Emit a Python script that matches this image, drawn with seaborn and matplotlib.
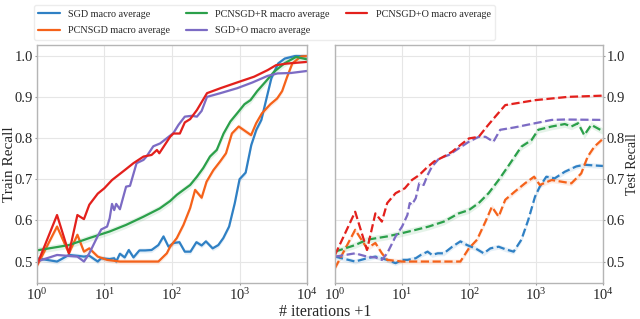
"""
Train / test recall curves (macro average) vs number of iterations.
"""

import pandas as pd
import matplotlib
matplotlib.use("Agg")
import matplotlib.pyplot as plt
import seaborn as sns

# Series names and colours
SERIES = ["SGD macro average", "PCNSGD macro average", "PCNSGD+R macro average",
          "SGD+O macro average", "PCNSGD+O macro average"]
COLORS = ["#2f80c4", "#f5621a", "#2ba04a", "#7c6bc4", "#e3201c"]

# ---- Train recall (left panel) ----
sgd_train_x = [1, 2, 3, 4, 5, 6, 8, 9, 12, 14, 15, 17, 20, 23, 27, 33, 40, 50, 63, 75, 89,
               105, 129, 155, 188, 230, 275, 318, 400, 485, 575, 700, 850, 1000, 1230, 1490,
               1770, 2100, 2500, 2950, 3710, 4660, 6550, 10000]
sgd_train_y = [0.508, 0.500, 0.516, 0.514, 0.512, 0.514, 0.500, 0.508, 0.506, 0.508, 0.500,
               0.519, 0.510, 0.528, 0.510, 0.527, 0.527, 0.528, 0.540, 0.561, 0.536, 0.545,
               0.547, 0.524, 0.524, 0.547, 0.539, 0.549, 0.532, 0.540, 0.557, 0.585, 0.642,
               0.700, 0.716, 0.783, 0.820, 0.844, 0.896, 0.945, 0.981, 0.993, 0.999, 0.999]

pcnsgd_train_x = [1, 2, 3, 4, 5, 6, 8, 11, 17, 30, 63, 84, 94, 118, 148, 186, 220, 275, 325,
                  410, 515, 630, 770, 970, 1210, 1480, 1760, 2140, 2850, 3590, 4260, 5060,
                  6020, 8050, 10000]
pcnsgd_train_y = [0.488, 0.585, 0.520, 0.565, 0.524, 0.532, 0.512, 0.504, 0.500, 0.500,
                  0.500, 0.520, 0.536, 0.557, 0.589, 0.630, 0.674, 0.655, 0.694, 0.722,
                  0.743, 0.763, 0.811, 0.828, 0.817, 0.807, 0.836, 0.860, 0.882, 0.896,
                  0.914, 0.949, 0.981, 0.998, 0.999]

pcnsgdr_train_x = [1, 3, 6, 12, 21, 38, 66, 94, 118, 148, 186, 234, 290, 365, 460, 580, 730,
                   920, 1180, 1450, 1825, 2430, 3240, 4580, 6830, 10000]
pcnsgdr_train_y = [0.527, 0.540, 0.557, 0.573, 0.589, 0.609, 0.629, 0.647, 0.662, 0.674,
                   0.686, 0.706, 0.727, 0.755, 0.771, 0.811, 0.840, 0.860, 0.882, 0.892,
                   0.914, 0.937, 0.961, 0.981, 0.997, 0.991]

sgdo_train_x = [1, 2, 4, 5, 6, 8, 9, 11, 12, 13, 14, 15, 17, 21, 24, 30, 38, 42, 53, 67, 105,
                125, 155, 196, 234, 275, 330, 520, 920, 1550, 2600, 3660, 5750, 10000]
sgdo_train_y = [0.500, 0.516, 0.512, 0.500, 0.520, 0.562, 0.578, 0.585, 0.605, 0.640, 0.625,
                0.640, 0.627, 0.682, 0.684, 0.739, 0.747, 0.755, 0.780, 0.787, 0.812, 0.832,
                0.852, 0.854, 0.852, 0.866, 0.900, 0.909, 0.921, 0.935, 0.951, 0.957, 0.958,
                0.963]

pcnsgdo_train_x = [1, 2, 3, 4, 5, 6, 8, 10, 13, 20, 27, 38, 50, 60, 65, 94, 105, 131, 155,
                   186, 234, 330, 520, 920, 1640, 2600, 3460, 5060, 10000]
pcnsgdo_train_y = [0.490, 0.613, 0.520, 0.613, 0.603, 0.638, 0.665, 0.678, 0.698, 0.722,
                   0.739, 0.755, 0.759, 0.771, 0.763, 0.803, 0.811, 0.811, 0.838, 0.846,
                   0.868, 0.909, 0.921, 0.935, 0.949, 0.965, 0.977, 0.981, 0.985]

# ---- Test recall (right panel) ----
sgd_test_x = [1, 2, 3, 4, 6, 8, 10, 12, 16, 19, 24, 28, 34, 42, 56, 74, 93, 124, 165, 207,
              275, 345, 460, 600, 760, 960, 1130, 1410, 1880, 2660, 3950, 5200, 10000]
sgd_test_y = [0.512, 0.500, 0.508, 0.512, 0.504, 0.496, 0.504, 0.504, 0.508, 0.516, 0.524,
              0.516, 0.520, 0.520, 0.536, 0.549, 0.540, 0.532, 0.520, 0.532, 0.536, 0.530,
              0.524, 0.553, 0.601, 0.658, 0.682, 0.706, 0.702, 0.718, 0.731, 0.735, 0.732]

pcnsgd_test_x = [1, 2, 3, 4, 5, 6, 10, 74, 99, 131, 175, 218, 275, 345, 480, 680, 930, 1130,
                 1700, 2370, 3340, 4680, 5850, 7350, 10000]
pcnsgd_test_y = [0.484, 0.577, 0.532, 0.545, 0.520, 0.504, 0.500, 0.500, 0.532, 0.553,
                 0.597, 0.633, 0.609, 0.650, 0.670, 0.690, 0.706, 0.686, 0.698, 0.694,
                 0.690, 0.714, 0.755, 0.779, 0.799]

pcnsgdr_test_x = [1, 2, 3, 6, 10, 16, 25, 42, 70, 99, 139, 195, 275, 410, 600, 850, 1070,
                  1700, 2660, 3340, 4200, 5200, 6600, 10000]
pcnsgdr_test_y = [0.524, 0.540, 0.553, 0.561, 0.569, 0.577, 0.585, 0.597, 0.617, 0.625,
                  0.642, 0.666, 0.698, 0.739, 0.779, 0.795, 0.820, 0.828, 0.834, 0.828,
                  0.836, 0.807, 0.832, 0.816]

sgdo_test_x = [1, 2, 3, 4, 5, 6, 8, 10, 12, 13, 14, 16, 18, 21, 24, 28, 36, 50, 70, 99, 139,
               175, 230, 290, 480, 960, 1700, 2660, 10000]
sgdo_test_y = [0.512, 0.520, 0.512, 0.510, 0.504, 0.520, 0.561, 0.585, 0.613, 0.642, 0.638,
               0.654, 0.690, 0.686, 0.710, 0.731, 0.751, 0.759, 0.775, 0.791, 0.803, 0.803,
               0.791, 0.820, 0.826, 0.836, 0.844, 0.845, 0.844]

pcnsgdo_test_x = [1, 2, 3, 4, 5, 6, 8, 11, 14, 18, 23, 30, 42, 56, 74, 99, 139, 184, 245,
                  345, 960, 2960, 10000]
pcnsgdo_test_y = [0.516, 0.621, 0.528, 0.617, 0.597, 0.642, 0.666, 0.678, 0.698, 0.710,
                  0.727, 0.743, 0.755, 0.767, 0.783, 0.799, 0.803, 0.828, 0.852, 0.880,
                  0.892, 0.900, 0.903]

# half width of the spread across runs (shaded band)
spread = [0.006, 0.006, 0.008, 0.002, 0.002]

train = [(sgd_train_x, sgd_train_y), (pcnsgd_train_x, pcnsgd_train_y),
         (pcnsgdr_train_x, pcnsgdr_train_y), (sgdo_train_x, sgdo_train_y),
         (pcnsgdo_train_x, pcnsgdo_train_y)]
test = [(sgd_test_x, sgd_test_y), (pcnsgd_test_x, pcnsgd_test_y),
        (pcnsgdr_test_x, pcnsgdr_test_y), (sgdo_test_x, sgdo_test_y),
        (pcnsgdo_test_x, pcnsgdo_test_y)]


def long_table(curves):
    # two "runs" per point (value +/- spread) so seaborn draws the band
    rows = []
    for name, (xs, ys), d in zip(SERIES, curves, spread):
        for x, y in zip(xs, ys):
            rows.append((name, x, y - d))
            rows.append((name, x, y + d))
    return pd.DataFrame(rows, columns=["series", "iter", "recall"])


sns.set_theme(style="whitegrid")
plt.rcParams["font.family"] = ["Liberation Serif", "DejaVu Serif"]
plt.rcParams["mathtext.fontset"] = "custom"
plt.rcParams["mathtext.rm"] = "Liberation Serif"

fig = plt.figure(figsize=(6.4, 3.19), dpi=100)
ax1 = fig.add_axes([0.0573, 0.113, 0.4227, 0.746])
ax2 = fig.add_axes([0.5234, 0.113, 0.4193, 0.746])
palette = dict(zip(SERIES, COLORS))

for ax, curves, ls in [(ax1, train, "-"), (ax2, test, "--")]:
    sns.lineplot(data=long_table(curves), x="iter", y="recall", hue="series",
                 hue_order=SERIES, palette=palette, errorbar=("pi", 100),
                 err_kws={"alpha": 0.12, "linewidth": 0}, linewidth=1.6,
                 linestyle=ls, legend=(ax is ax1), ax=ax)
    ax.set_xscale("log")
    ax.set_xlim(1, 1e4)
    ax.set_ylim(0.448, 1.026)
    ax.set_yticks([0.5, 0.6, 0.7, 0.8, 0.9, 1.0])
    ax.set_xlabel("")
    ax.grid(True, which="major", color="#e6e6e6", linewidth=0.8)
    ax.grid(False, which="minor")
    for s in ax.spines.values():
        s.set_color("#b5b5b5")
        s.set_linewidth(1.0)
    ax.tick_params(axis="both", which="major", labelsize=10.5, length=1.5,
                   width=0.8, color="#999999", pad=1.2, bottom=True, left=True)
    ax.tick_params(axis="x", which="minor", bottom=False)

ax1.set_ylabel("Train Recall", fontsize=11)
ax1.yaxis.set_label_coords(-0.078, 0.5)
ax2.yaxis.tick_right()
ax2.yaxis.set_label_position("right")
ax2.tick_params(axis="y", right=True, left=False, pad=1.0)
ax2.set_ylabel("Test Recall", fontsize=10)
ax2.yaxis.set_label_coords(1.084, 0.5)

handles, labels = ax1.get_legend_handles_labels()
ax1.get_legend().remove()
fig.legend(handles, labels, loc="upper left", bbox_to_anchor=(0.045, 1.0),
           ncol=3, fontsize=7.3, frameon=True, handlelength=2.1,
           handletextpad=0.8, columnspacing=1.6, borderpad=0.45,
           labelspacing=0.75, edgecolor="#e8e8e8", fancybox=True)

fig.text(0.508, 0.009, "# iterations +1", ha="center", va="baseline", fontsize=11.5)

plt.savefig("out.png", dpi=100)
